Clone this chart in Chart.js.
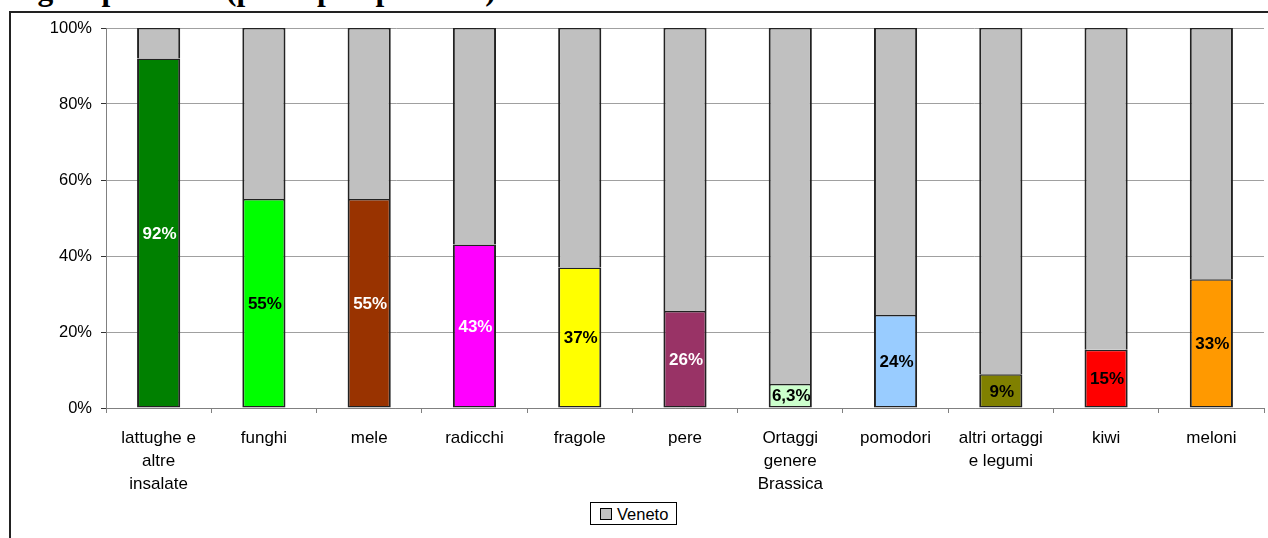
<!DOCTYPE html>
<html lang="it">
<head>
  <meta charset="UTF-8" />
  <title>Quota per singolo prodotto</title>
  <script src="https://cdn.jsdelivr.net/npm/chart.js"></script>
  <style>
    html, body { margin: 0; padding: 0; background: #fff; overflow: hidden; }
    body { width: 1268px; height: 538px; position: relative; font-family: "Liberation Sans", Arial, sans-serif; }
    #title { position: absolute; left: -1px; top: -26px; font: bold 31.5px/32px "Liberation Serif", "Times New Roman", serif; color: #000; white-space: nowrap; }
    #frame { position: absolute; left: 9px; top: 11px; width: 1300px; height: 600px; border-left: 2px solid #222; border-top: 2px solid #222; }
    #wrap { position: absolute; left: 0; top: 0; width: 1268px; height: 538px; }
    #legend { position: absolute; left: 590px; top: 502px; width: 85px; height: 21px; border: 1px solid #000; background: #fff; font-size: 16.5px; line-height: 21px; }
    #legend span.sw { position: absolute; left: 9px; top: 5px; width: 10px; height: 10px; background: #c0c0c0; border: 1px solid #000; }
    #legend span.tx { position: absolute; left: 26px; top: 1px; }
  </style>
</head>
<body>
  <div id="title">singolo prodotto (principali prodotti).</div>
  <div id="frame"></div>
  <div id="wrap"><canvas id="chart" width="1268" height="538"></canvas></div>
  <div id="legend"><span class="sw"></span><span class="tx">Veneto</span></div>

  <script>
    // categorie e quote (%)
    const categories = [
      ['lattughe e', 'altre', 'insalate'],
      'funghi',
      'mele',
      'radicchi',
      'fragole',
      'pere',
      ['Ortaggi', 'genere', 'Brassica'],
      'pomodori',
      ['altri ortaggi', 'e legumi'],
      'kiwi',
      'meloni'
    ];
    const shares = [92, 55, 55, 43, 37, 25.5, 6.3, 24.5, 8.9, 15.3, 33.9];
    const shareLabels = ['92%', '55%', '55%', '43%', '37%', '26%', '6,3%', '24%', '9%', '15%', '33%'];
    const barColors = ['#008000', '#00ff00', '#993300', '#ff00ff', '#ffff00', '#993366',
                       '#ccffcc', '#99ccff', '#808000', '#ff0000', '#ff9900'];
    const labelColors = ['#fff', '#000', '#fff', '#fff', '#000', '#fff',
                         '#000', '#000', '#000', '#000', '#000'];
    const yTicks = [0, 20, 40, 60, 80, 100];

    const rest = shares.map(v => 100 - v);

    // etichette al centro delle barre colorate
    const shareLabelPlugin = {
      id: 'shareLabels',
      afterDatasetsDraw(chart) {
        const ctx = chart.ctx;
        const meta = chart.getDatasetMeta(0);
        ctx.save();
        ctx.font = 'bold 17px "Liberation Sans", Arial, sans-serif';
        ctx.textAlign = 'center';
        ctx.textBaseline = 'middle';
        meta.data.forEach((bar, i) => {
          const y = (bar.y + bar.base) / 2;
          ctx.fillStyle = labelColors[i];
          ctx.fillText(shareLabels[i], bar.x + 1, y + 1);
        });
        ctx.restore();
      }
    };

    new Chart(document.getElementById('chart'), {
      type: 'bar',
      data: {
        labels: categories,
        datasets: [
          {
            label: 'quota',
            data: shares,
            backgroundColor: barColors,
            borderColor: '#222',
            borderWidth: { top: 1.5, left: 2, right: 2, bottom: 1.5 },
            borderSkipped: false,
            inflateAmount: 0,
            categoryPercentage: 1,
            barPercentage: 0.41
          },
          {
            label: 'Veneto',
            data: rest,
            backgroundColor: '#c0c0c0',
            borderColor: '#222',
            borderWidth: { top: 1.5, left: 2, right: 2, bottom: 0 },
            borderSkipped: false,
            inflateAmount: 0,
            categoryPercentage: 1,
            barPercentage: 0.41
          }
        ]
      },
      options: {
        responsive: false,
        animation: false,
        layout: { padding: { top: 28, right: 4, left: 0, bottom: 0 } },
        plugins: {
          legend: { display: false },
          tooltip: { enabled: false }
        },
        scales: {
          x: {
            stacked: true,
            grid: { drawOnChartArea: false, drawTicks: true, tickLength: 5, color: '#808080', offset: true },
            border: { display: true, color: '#808080', width: 1 },
            ticks: {
              color: '#000',
              font: { family: '"Liberation Sans", Arial, sans-serif', size: 17, lineHeight: 1.35 },
              padding: 14,
              maxRotation: 0,
              autoSkip: false
            },
            afterFit(scale) { scale.height = 130; }
          },
          y: {
            stacked: true,
            min: 0,
            max: 100,
            afterBuildTicks(scale) { scale.ticks = yTicks.map(v => ({ value: v })); },
            grid: { color: '#a0a0a0', tickColor: '#333', tickLength: 5 },
            border: { display: true, color: '#808080', width: 1 },
            ticks: {
              color: '#000',
              font: { family: '"Liberation Sans", Arial, sans-serif', size: 16.5 },
              padding: 9,
              callback: v => v + '%'
            },
            afterFit(scale) { scale.width = 106; }
          }
        }
      },
      plugins: [shareLabelPlugin]
    });
  </script>
</body>
</html>
